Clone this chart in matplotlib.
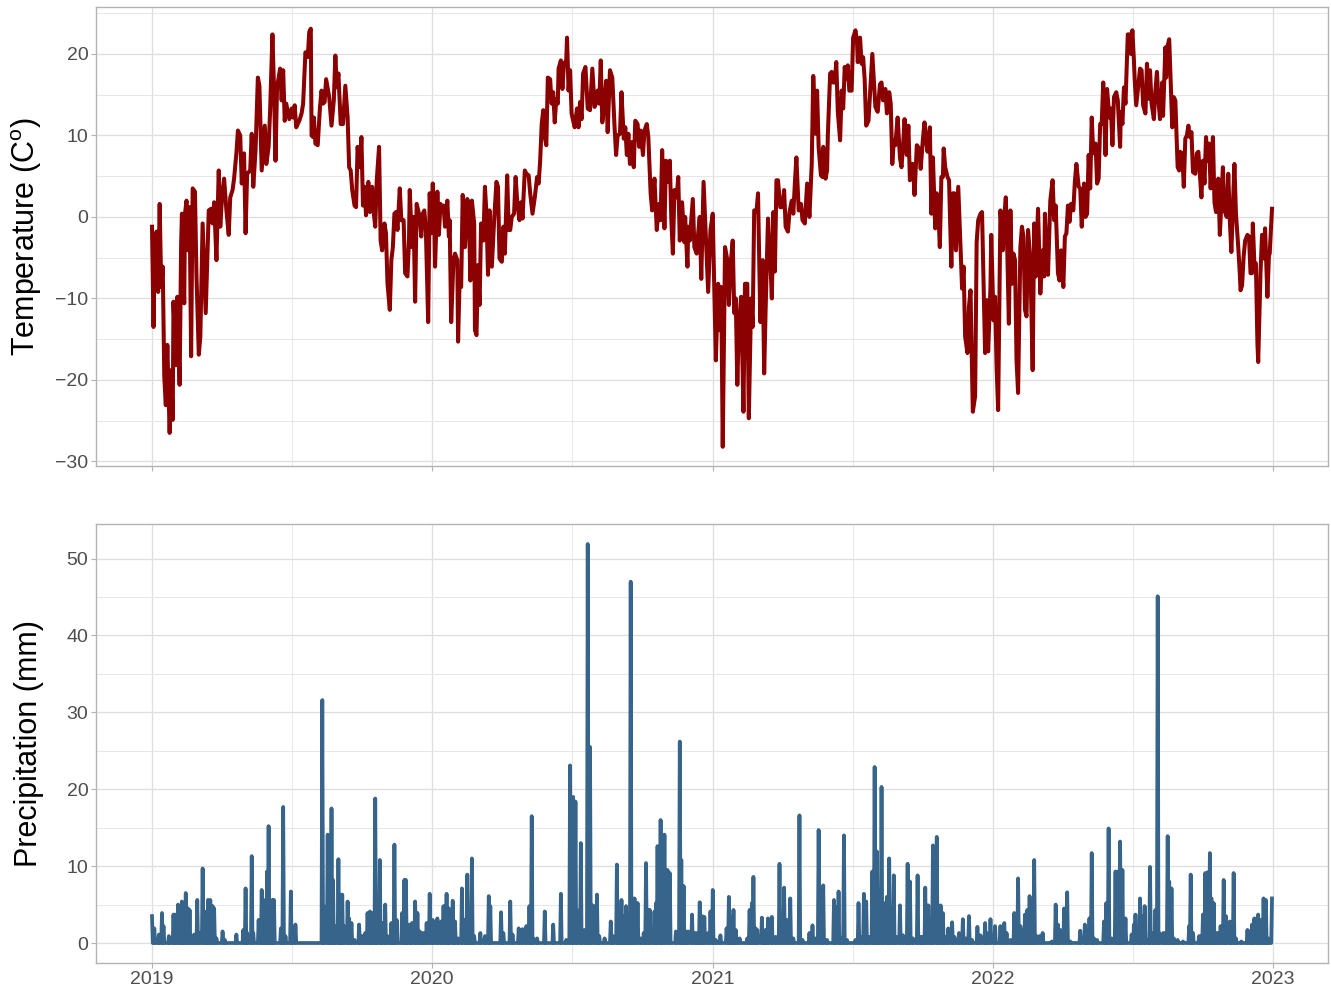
import numpy as np
import matplotlib
matplotlib.use("Agg")
import matplotlib.pyplot as plt
import matplotlib.dates as mdates
from matplotlib.ticker import MultipleLocator, FixedLocator

plt.rcParams['font.family'] = ['Liberation Sans', 'DejaVu Sans']
plt.rcParams['mathtext.fontset'] = 'custom'
plt.rcParams['mathtext.rm'] = 'Liberation Sans'

# (days since 2019-01-01, daily mean temperature in C)
temp_2019 = [(0,-1.2),(2,-13.5),(4,-2.4),(6,-1.8),(8,-9.2),(10,1.6),(12,-8.6),(14,-6.1),(15,-12.7),(16,-19.6),(18,-23.1),(20,-15.7),(23,-26.5),(25,-18.8),(27,-24.9),(28,-10.4),(31,-18.2),(33,-9.8),(36,-20.6),(38,-3.3),(39,0.4),(42,-10.6),(43,0.4),(45,2.0),(47,-4.1),(49,1.2),(51,-17.1),(53,3.5),(56,3.1),(58,-7.3),(61,-16.9),(63,-14.7),(66,-0.8),(70,-11.8),(74,0.8),(77,1.0),(79,-0.8),(81,1.8),(84,-5.3),(87,5.7),(89,-1.2),(91,2.0),(94,4.7),(97,0.8),(100,-2.2),(102,2.4),(105,3.3),(107,4.7),(110,7.8),(112,10.6),(115,10.0),(117,4.1),(120,7.8),(122,-2.0),(124,5.3),(128,5.7),(130,10.2),(132,3.7),(135,8.2),(138,17.1),(140,16.1),(143,5.7),(147,11.2),(149,6.5),(152,8.6),(154,13.1),(157,22.4),(159,15.9),(161,6.9),(163,15.9),(167,18.2),(169,14.3),(171,18.0),(173,11.8),(175,13.9),(179,12.0),(182,13.3),(184,12.2),(186,13.7),(188,11.0),(192,11.8),(195,12.7),(197,13.9),(200,20.2),(203,19.6),(205,22.7),(207,23.1),(208,10.0),(210,9.8),(211,12.2),(213,9.0),(216,8.8),(219,13.5),(221,15.5),(223,13.9),(225,14.1),(227,16.9),(231,14.7),(234,11.2),(237,14.3),(239,19.8),(241,15.9),(243,17.6),(246,11.4),(249,11.4),(252,16.1),(255,12.2),(257,6.1),(259,5.7),(261,3.3),(264,1.4),(266,1.2),(268,8.6),(271,6.1),(273,9.8),(275,1.4),(277,3.7),(279,0.2),(282,4.3),(284,0.6),(287,3.7),(289,0.6),(291,-1.2),(293,4.5),(296,8.6),(298,-2.9),(300,-4.1),(303,-0.8),(305,-2.0),(307,-8.2),(310,-11.4),(312,-5.3),(314,-3.7),(316,0.4),(318,0.6),(320,-1.6),(323,3.5),(325,-0.4),(328,-0.4),(330,-6.9),(333,-7.3),(335,-2.9),(336,3.3),(339,-3.7),(341,0.0),(343,-10.4),(345,1.6),(349,0.0),(351,-2.4),(353,0.4),(355,0.8),(357,-1.6)]
temp_2020 = [(360,-12.9),(362,2.9),(364,-2.0),(366,4.1),(368,-0.4),(369,-6.1),(372,3.1),(374,-2.2),(376,1.6),(378,1.2),(380,1.4),(382,-1.2),(385,2.0),(387,-2.4),(388,-0.4),(390,-12.9),(393,-5.3),(395,-4.5),(398,-5.3),(399,-15.3),(401,-7.8),(403,-8.6),(405,2.7),(408,-3.7),(411,2.2),(413,1.2),(415,-7.8),(417,2.0),(420,-0.8),(421,-13.9),(423,-14.5),(425,-5.9),(427,-10.8),(429,-0.8),(432,-2.9),(434,3.7),(436,0.4),(438,-7.1),(440,0.8),(443,-6.1),(446,-0.4),(449,4.3),(451,3.7),(453,-5.1),(456,-5.5),(458,-1.2),(460,-4.5),(463,5.1),(465,-1.6),(467,-1.6),(469,0.0),(472,0.4),(474,4.9),(476,2.0),(479,-0.4),(481,1.8),(483,-0.2),(486,5.7),(488,5.3),(491,5.1),(493,2.9),(496,0.4),(499,2.4),(502,4.9),(504,4.1),(506,6.9),(508,11.4),(510,13.1),(512,9.8),(514,8.8),(516,17.1),(519,16.9),(521,13.9),(523,15.3),(525,11.6),(527,14.5),(529,13.9),(530,18.2),(533,19.2),(535,15.7),(537,18.8),(540,19.2),(541,22.0),(543,15.5),(545,18.0),(547,12.7),(549,11.8),(551,11.0),(554,13.3),(556,11.0),(558,14.1),(560,12.0),(562,17.6),(565,18.4),(568,13.3),(571,13.1),(574,18.2),(577,13.5),(579,14.1),(581,15.5),(583,13.9),(585,19.2),(587,11.6),(590,14.1),(592,16.7),(594,10.4),(597,18.0),(600,17.1),(603,11.0),(605,7.6),(607,10.0),(610,10.2),(612,15.3),(615,9.6),(617,11.0),(619,7.6),(621,10.2),(623,6.5),(626,9.2),(628,6.1),(630,11.8),(633,11.4),(635,8.6),(637,10.6),(640,7.6),(642,10.6),(645,11.4),(647,9.8),(650,2.9),(652,0.8),(655,4.7),(658,-1.6),(661,1.6),(663,-0.4),(665,8.2),(668,-1.4),(670,6.9),(673,4.3),(675,6.9),(677,-0.4),(679,-4.5),(681,3.3),(684,2.4),(686,4.9),(688,-2.9),(691,1.8),(694,-3.1),(695,0.0),(698,-6.1),(699,-1.2),(701,-2.9),(705,2.2),(707,-3.7),(710,-4.5),(712,-2.0),(714,0.0),(716,-7.6),(719,4.3)]
temp_2021 = [(725,-9.2),(728,-1.6),(731,0.4),(732,-4.5),(735,-17.6),(738,-8.2),(740,-13.9),(742,-8.6),(744,-28.2),(747,-3.7),(750,-5.3),(752,-10.8),(754,-6.1),(757,-2.9),(759,-11.8),(761,-10.0),(763,-20.6),(765,-13.3),(768,-9.8),(771,-23.9),(773,-8.2),(776,-8.2),(778,-24.7),(781,-10.0),(783,-13.5),(785,0.8),(788,0.6),(790,2.9),(793,-12.9),(796,-5.3),(798,-19.2),(800,-11.0),(803,-0.2),(806,-5.3),(808,-10.0),(810,0.6),(812,-6.7),(814,4.5),(816,4.5),(819,1.2),(822,1.2),(824,3.3),(826,-1.2),(829,-1.8),(831,0.6),(834,2.0),(836,0.4),(838,4.1),(840,7.3),(843,0.8),(846,1.6),(848,-0.4),(851,-0.8),(854,4.1),(857,0.0),(860,6.5),(862,17.3),(865,10.2),(867,15.5),(869,8.6),(872,5.1),(874,4.9),(875,8.6),(878,4.7),(880,5.7),(881,10.0),(884,17.6),(886,17.8),(888,16.5),(890,16.5),(892,19.0),(894,12.9),(897,9.4),(899,15.5),(901,13.3),(903,18.4),(905,16.9),(907,18.6),(909,15.5),(912,15.5),(914,22.0),(917,22.9),(919,21.6),(920,19.0),(923,22.0),(925,18.8),(927,19.6),(929,16.9),(931,11.2),(934,11.8),(936,15.1),(939,20.0),(941,16.7),(943,13.5),(946,12.9),(949,16.3),(951,16.5),(953,14.3),(956,15.7),(958,12.7),(961,15.3),(963,13.9),(965,6.5),(967,9.4),(969,8.8),(972,12.2),(975,7.3),(977,6.1),(979,8.6),(981,12.0),(984,7.6),(986,11.2),(988,4.5),(990,6.5),(992,6.5),(994,2.7),(997,8.8),(1000,8.4),(1002,5.9),(1005,9.6),(1007,11.6),(1009,9.4),(1011,8.0),(1014,11.0),(1016,0.4),(1018,7.3),(1021,-1.4),(1023,2.9),(1025,0.8),(1027,-3.7),(1029,4.9),(1031,4.9),(1032,8.4),(1034,6.1),(1037,4.9),(1039,4.5),(1042,-6.1),(1044,2.9),(1046,2.9),(1048,-4.1),(1051,3.7),(1053,-1.2),(1056,-8.8),(1058,-6.1),(1060,-14.7),(1063,-16.7),(1065,-11.0),(1067,-9.0),(1070,-23.9),(1073,-22.0),(1075,-3.1),(1077,-0.4),(1080,0.4),(1082,0.6)]
temp_2022 = [(1086,-16.7),(1088,-10.2),(1090,-16.5),(1093,-8.6),(1094,-2.2),(1097,-12.7),(1099,-9.8),(1101,-18.4),(1103,-23.7),(1106,0.8),(1109,-4.1),(1111,0.0),(1113,2.4),(1115,-4.5),(1117,-13.1),(1119,0.8),(1121,-8.2),(1123,-4.5),(1125,-5.3),(1127,-17.6),(1129,-21.6),(1132,-3.7),(1134,-1.2),(1136,-2.4),(1138,-11.4),(1140,-12.2),(1142,-1.6),(1145,-5.3),(1148,-18.8),(1150,-0.8),(1152,-7.3),(1155,1.0),(1158,-9.4),(1161,-4.1),(1163,-7.3),(1164,0.4),(1166,-5.3),(1168,-7.1),(1171,2.0),(1174,4.5),(1176,-0.4),(1178,1.4),(1181,-6.9),(1183,-7.8),(1185,-4.1),(1188,-8.6),(1190,-2.4),(1192,-2.0),(1194,1.4),(1196,-0.6),(1198,1.6),(1201,0.8),(1203,4.3),(1205,6.5),(1208,3.7),(1210,3.5),(1212,-1.2),(1215,4.1),(1217,0.0),(1219,0.4),(1221,7.6),(1223,3.5),(1225,12.2),(1227,7.8),(1230,9.0),(1232,4.1),(1234,4.7),(1236,11.4),(1238,11.4),(1240,16.5),(1243,7.6),(1245,15.7),(1248,12.2),(1250,13.3),(1252,8.8),(1254,14.7),(1257,15.3),(1259,14.3),(1262,8.6),(1263,12.9),(1265,11.4),(1267,15.9),(1269,13.9),(1271,19.6),(1272,22.4),(1275,22.4),(1276,20.0),(1278,22.9),(1280,19.2),(1281,16.9),(1283,13.7),(1285,15.5),(1288,18.2),(1290,18.0),(1292,13.7),(1295,12.7),(1297,18.8),(1299,14.5),(1301,18.0),(1303,13.9),(1306,12.0),(1308,15.5),(1310,17.8),(1312,14.3),(1314,12.0),(1317,16.5),(1318,12.4),(1321,20.8),(1322,17.1),(1324,21.0),(1326,21.8),(1328,16.3),(1330,11.0),(1332,14.7),(1334,14.3),(1337,6.1),(1339,5.7),(1340,8.0),(1343,7.8),(1345,3.7),(1347,9.6),(1349,10.0),(1351,11.2),(1353,9.8),(1355,10.4),(1357,5.5),(1360,5.3),(1362,7.8),(1364,8.0),(1366,5.1),(1368,2.4),(1370,6.9),(1372,4.1),(1374,9.8),(1376,6.9),(1378,9.0),(1380,3.5),(1383,9.8),(1385,1.8),(1387,0.6),(1390,4.7),(1392,-2.2),(1394,1.8),(1396,6.1),(1398,0.8),(1401,0.0),(1403,5.3),(1405,-0.4),(1407,-4.3),(1409,1.2),(1411,6.5),(1413,0.4),(1416,-3.7),(1418,-6.9),(1419,-9.0),(1421,-8.4),(1423,-4.9),(1425,-2.9),(1428,-2.2),(1430,-2.4),(1432,-6.9),(1434,-6.9),(1435,-0.8),(1437,-5.7),(1439,-5.7),(1441,-15.5),(1442,-17.8),(1445,-6.9),(1447,-2.2),(1449,-5.1),(1451,-1.4),(1454,-9.8),(1456,-4.7),(1457,-4.5),(1460,1.0)]

# (days since 2019-01-01, precipitation in mm) for the rainy days; all other days are 0
precip_2019 = [(0,3.5),(3,1.9),(9,1.1),(13,3.9),(15,2.2),(22,0.9),(28,3.7),(30,3.7),(34,5.0),(36,3.5),(39,5.4),(41,4.3),(44,6.5),(47,4.5),(49,4.3),(52,0.9),(55,1.1),(59,5.6),(62,1.3),(66,9.7),(68,3.9),(71,4.1),(73,5.6),(76,5.6),(79,4.8),(81,4.5),(84,0.6),(92,1.5),(95,0.4),(110,1.1),(119,1.7),(122,7.1),(124,1.3),(130,11.3),(132,1.3),(139,3.0),(143,6.9),(145,5.4),(148,5.6),(150,9.3),(152,15.2),(155,1.3),(157,5.6),(159,5.6),(168,1.9),(171,17.7),(174,0.9),(181,6.7),(183,0.9),(187,2.4),(222,31.6),(224,4.8),(229,14.1),(231,13.9),(234,17.5),(236,8.2),(238,2.2),(243,10.9),(245,6.3),(248,6.3),(250,2.2),(255,5.4),(257,3.2),(260,2.6),(264,0.4),(270,2.4),(274,0.9),(278,1.3),(281,3.9),(284,4.1),(287,3.9),(291,18.8),(293,2.8),(297,10.8),(300,2.6),(304,5.0),(307,0.9),(312,2.6),(314,1.9),(316,12.8),(319,3.0),(326,3.9),(329,8.2),(331,8.2),(333,2.4),(336,2.4),(339,2.6),(343,5.4),(346,3.9),(349,1.5),(352,1.3),(355,1.3)]
precip_2020 = [(358,2.6),(362,6.4),(366,3.0),(372,3.2),(377,2.8),(380,4.8),(384,6.4),(387,4.5),(392,5.5),(395,2.8),(399,0.6),(404,7.1),(408,3.0),(411,8.9),(414,3.5),(417,11.0),(420,0.9),(428,1.3),(434,0.9),(439,6.1),(441,4.8),(455,4.0),(458,1.3),(467,5.4),(470,1.1),(478,1.9),(483,1.8),(488,2.2),(492,4.8),(495,16.5),(497,0.6),(502,0.6),(512,4.1),(523,2.4),(533,6.4),(540,0.4),(545,23.1),(549,19.0),(552,18.4),(554,4.3),(559,13.0),(561,1.3),(564,1.7),(568,51.9),(571,25.5),(573,5.0),(577,4.8),(580,6.3),(583,0.9),(590,0.6),(598,2.8),(601,0.9),(606,10.2),(609,1.3),(612,5.6),(615,3.5),(618,4.8),(621,2.6),(624,47.0),(626,5.6),(629,5.8),(633,5.2),(637,0.6),(641,1.3),(644,10.4),(647,4.3),(649,4.3),(655,4.1),(657,5.2),(659,12.6),(663,16.0),(665,4.3),(668,14.1),(672,9.5),(675,9.1),(683,1.5),(688,26.2),(690,10.8),(693,7.4),(696,1.5),(699,1.5),(704,3.7),(708,1.3),(711,1.3),(714,5.3),(717,3.5)]
precip_2021 = [(720,3.4),(725,1.3),(728,4.1),(731,6.9),(735,0.4),(741,1.0),(749,1.9),(752,6.0),(755,3.4),(758,4.3),(761,1.7),(766,0.6),(776,0.6),(779,4.3),(782,5.2),(784,8.6),(787,1.9),(789,1.7),(795,3.3),(798,0.8),(800,1.7),(803,3.2),(808,3.4),(813,0.8),(818,10.3),(822,0.6),(824,7.2),(828,3.0),(832,5.8),(836,0.6),(844,16.6),(848,0.4),(857,1.3),(861,2.3),(865,0.6),(869,14.7),(873,7.3),(875,7.5),(880,0.4),(889,5.6),(891,4.7),(895,6.7),(898,0.6),(902,14.0),(906,0.4),(917,0.4),(921,5.2),(924,0.8),(928,6.4),(931,5.4),(935,0.8),(939,9.3),(942,22.9),(945,11.9),(948,4.9),(951,20.3),(954,5.2),(958,6.0),(961,11.0),(964,4.5),(967,8.8),(970,0.8),(975,4.9),(979,1.0),(983,0.8),(985,10.3),(988,8.0),(992,0.6),(998,8.8),(1002,0.8),(1005,0.8),(1008,7.2),(1012,4.9),(1016,0.8),(1018,12.7),(1023,13.8),(1025,0.8),(1028,4.9),(1031,3.9),(1034,0.8),(1038,1.9),(1043,2.7),(1046,0.8),(1052,1.3),(1057,3.1),(1061,0.6),(1065,3.5),(1069,0.4),(1076,2.1),(1080,1.0)]
precip_2022 = [(1086,2.6),(1088,1.3),(1093,3.1),(1099,2.2),(1106,2.2),(1111,2.6),(1114,1.3),(1119,0.4),(1124,3.9),(1126,1.3),(1129,8.4),(1132,2.2),(1135,1.7),(1138,3.7),(1141,4.3),(1144,6.1),(1147,1.1),(1150,10.8),(1153,0.9),(1157,0.9),(1161,1.3),(1173,0.2),(1178,5.0),(1181,2.4),(1184,1.7),(1189,4.5),(1193,6.6),(1197,0.2),(1210,1.6),(1216,2.4),(1219,1.7),(1222,3.2),(1225,11.7),(1228,0.6),(1232,0.4),(1241,2.8),(1244,5.2),(1247,14.9),(1251,0.6),(1256,9.3),(1259,9.3),(1262,13.2),(1265,9.5),(1269,3.2),(1277,1.1),(1280,2.4),(1282,3.7),(1285,1.3),(1288,5.8),(1291,3.5),(1294,4.8),(1298,0.4),(1301,9.9),(1305,1.3),(1308,4.3),(1311,45.1),(1313,1.3),(1318,1.3),(1321,1.3),(1324,13.9),(1326,8.0),(1329,7.1),(1332,0.6),(1337,0.4),(1344,0.2),(1352,2.2),(1354,8.9),(1357,1.3),(1365,0.9),(1368,0.9),(1370,3.7),(1373,9.1),(1376,9.2),(1379,11.7),(1381,5.8),(1384,5.2),(1387,1.3),(1390,1.3),(1393,2.2),(1397,8.2),(1400,3.5),(1405,2.8),(1407,1.7),(1410,9.1),(1413,0.6),(1420,0.2),(1428,1.7),(1431,1.5),(1434,2.4),(1437,3.2),(1440,3.2),(1442,3.7),(1446,3.0),(1449,5.8),(1452,5.6),(1455,0.6),(1460,5.8)]

start = np.datetime64('2019-01-01')
n_days = 1461

temp = np.array(temp_2019 + temp_2020 + temp_2021 + temp_2022)
temp_dates = start + temp[:, 0].astype(int).astype('timedelta64[D]')
temp_vals = temp[:, 1]

precip_vals = np.zeros(n_days)
for d, v in precip_2019 + precip_2020 + precip_2021 + precip_2022:
    precip_vals[int(d)] = v
precip_dates = start + np.arange(n_days).astype('timedelta64[D]')

fig = plt.figure(figsize=(13.31, 9.91), dpi=100)
ax1 = fig.add_axes([96/1331, 1-466/991, 1232/1331, 459/991])
ax2 = fig.add_axes([96/1331, 1-963/991, 1232/1331, 439/991])

ax1.plot(temp_dates, temp_vals, color='#8B0000', lw=2.9, solid_joinstyle='round')
ax2.plot(precip_dates, precip_vals, color='#36648B', lw=2.7, solid_joinstyle='round')

pad = np.timedelta64(73, 'D')
year_ticks = [np.datetime64(f'{y}-01-01') for y in range(2019, 2024)]
mid_ticks = [mdates.date2num(np.datetime64(f'{y}-01-01')) / 2 + mdates.date2num(np.datetime64(f'{y+1}-01-01')) / 2
             for y in range(2019, 2023)]

for ax in (ax1, ax2):
    ax.set_xlim(start - pad, start + np.timedelta64(n_days - 1, 'D') + pad)
    ax.set_xticks(year_ticks)
    ax.xaxis.set_major_formatter(mdates.DateFormatter('%Y'))
    ax.xaxis.set_minor_locator(FixedLocator(mid_ticks))
    ax.yaxis.set_minor_locator(MultipleLocator(5))
    ax.grid(which='major', color='#DEDEDE', lw=0.9)
    ax.grid(which='minor', color='#E3E3E3', lw=0.6)
    ax.set_axisbelow(True)
    for s in ax.spines.values():
        s.set_color('#B3B3B3')
        s.set_linewidth(1.0)
    ax.tick_params(which='major', length=3.5, width=0.8, color='#B3B3B3',
                   labelcolor='#4D4D4D', labelsize=14, pad=2)
    ax.tick_params(which='minor', length=0)

ax1.set_ylim(-30.56, 25.76)
ax1.set_yticks([-30, -20, -10, 0, 10, 20])
ax1.set_yticklabels(['\u221230', '\u221220', '\u221210', '0', '10', '20'])
ax1.tick_params(labelbottom=False)

ax2.set_ylim(-2.6, 54.5)
ax2.set_yticks([0, 10, 20, 30, 40, 50])

ax1.set_ylabel(r'Temperature (C$^{\mathrm{o}}$)', fontsize=22, color='black')
ax2.set_ylabel('Precipitation (mm)', fontsize=22, color='black')
ax1.yaxis.set_label_coords(-0.042, 0.5)
ax2.yaxis.set_label_coords(-0.042, 0.5)

fig.savefig('out.png', dpi=100, facecolor='white')
